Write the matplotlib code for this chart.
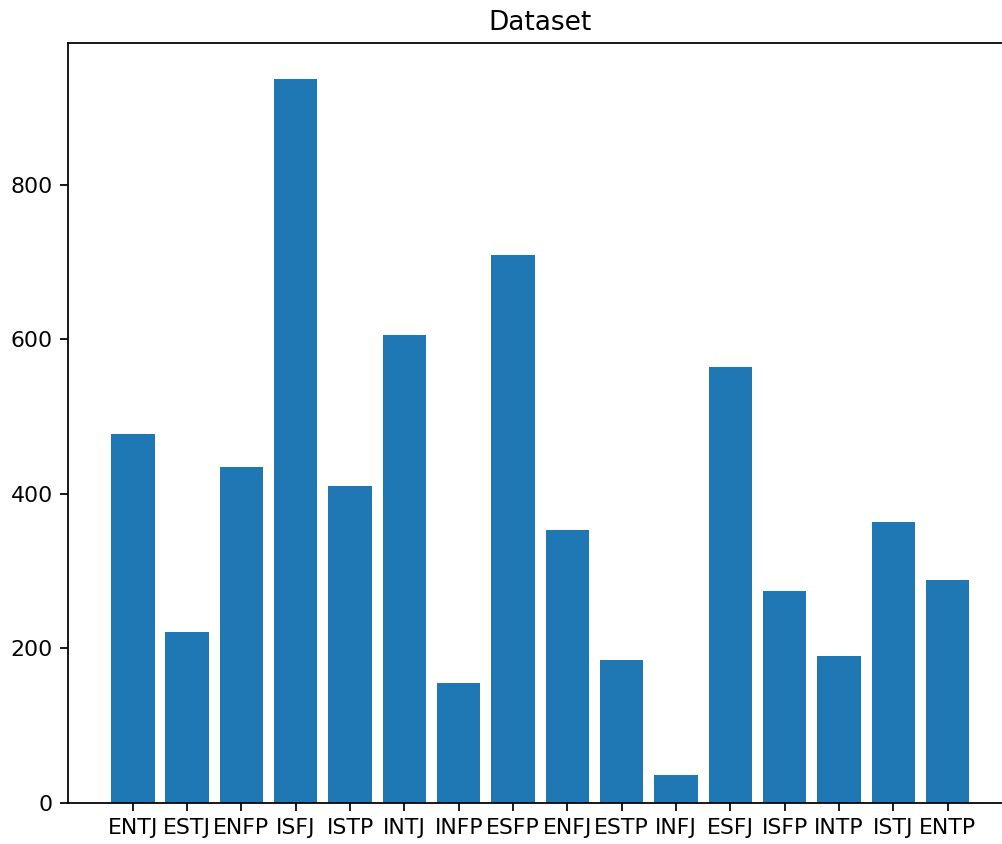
import matplotlib
matplotlib.use("Agg")
import matplotlib.pyplot as plt

types = ['ENTJ', 'ESTJ', 'ENFP', 'ISFJ', 'ISTP', 'INTJ', 'INFP', 'ESFP',
         'ENFJ', 'ESTP', 'INFJ', 'ESFJ', 'ISFP', 'INTP', 'ISTJ', 'ENTP']
counts = [478, 221, 435, 937, 410, 606, 155, 709,
          353, 185, 36, 565, 275, 190, 364, 289]

# the reference looks like a high-dpi render, so keep default font sizes
# and bump the dpi instead
DPI = 158
fig = plt.figure(figsize=(1002 / DPI, 844 / DPI), dpi=DPI)
# right spine sits past the edge of the picture in the reference
ax = fig.add_axes([0.068, 0.0486, 0.9422, 0.9005])

ax.bar(types, counts, color='#1f77b4')
ax.set_title('Dataset')

fig.savefig('out.png', dpi=DPI)
